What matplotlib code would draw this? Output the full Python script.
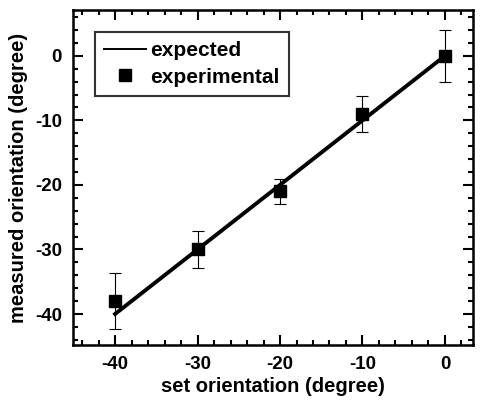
import numpy as np
import matplotlib.pyplot as plt
from matplotlib.ticker import MultipleLocator
from matplotlib.lines import Line2D

# data
set_angle = [-40, -30, -20, -10, 0]
measured = [-38, -30, -21, -9, 0]
meas_err = [4.3, 2.8, 1.9, 2.8, 4.0]
expected_x = [-40, 0]
expected_y = [-40, 0]

plt.rcParams['font.family'] = ['Liberation Sans', 'DejaVu Sans']
plt.rcParams['font.weight'] = 'bold'
plt.rcParams['axes.unicode_minus'] = False

fig = plt.figure(figsize=(4.87, 4.07), dpi=100)
ax = fig.add_axes([73/487, 1 - 345/407, 400/487, 335/407])

ax.plot(expected_x, expected_y, color='black', lw=2.8, zorder=2)
ax.errorbar(set_angle, measured, yerr=meas_err, fmt='s', color='black', ms=8,
            ecolor='black', elinewidth=0.8, capsize=4, capthick=0.8, zorder=3)

ax.set_xlim(-45.1, 3.4)
ax.set_ylim(-44.8, 7.1)
ax.xaxis.set_major_locator(MultipleLocator(10))
ax.xaxis.set_minor_locator(MultipleLocator(2))
ax.yaxis.set_major_locator(MultipleLocator(10))
ax.yaxis.set_minor_locator(MultipleLocator(2))
ax.tick_params(which='both', direction='in', top=True, right=True, width=1.5)
ax.tick_params(which='major', length=7, labelsize=13.5, pad=8)
ax.tick_params(which='minor', length=3.5)
for s in ax.spines.values():
    s.set_linewidth(1.8)

ax.set_xlabel('set orientation (degree)', fontsize=14.5, fontweight='bold', labelpad=3)
ax.set_ylabel('measured orientation (degree)', fontsize=14.5, fontweight='bold', labelpad=5)

handles = [Line2D([], [], color='black', lw=1.4),
           Line2D([], [], color='black', marker='s', ms=8, ls='none')]
leg = ax.legend(handles, ['expected', 'experimental'], loc='upper left',
                fontsize=15, frameon=True, fancybox=False, edgecolor='black',
                handlelength=2.0, borderaxespad=1.05, borderpad=0.45,
                handletextpad=0.2, labelspacing=0.35)
leg.get_frame().set_linewidth(1.5)

fig.savefig('out.png', dpi=100)
